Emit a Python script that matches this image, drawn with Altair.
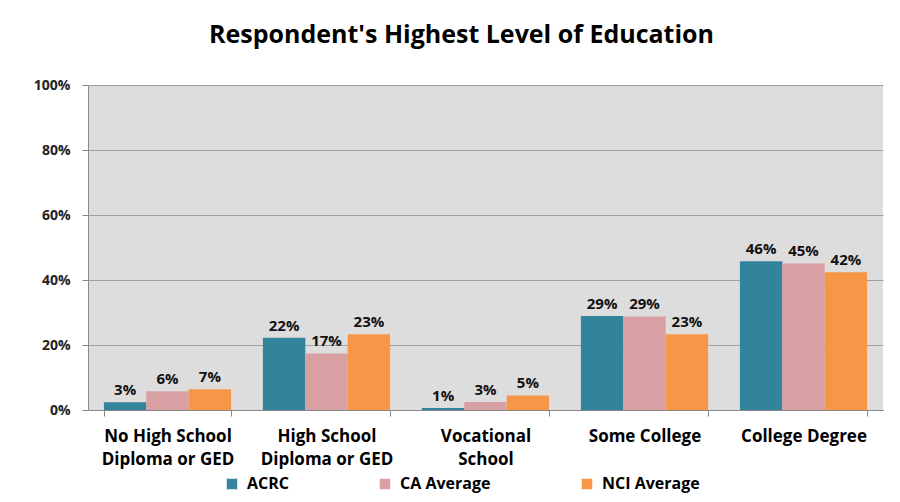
import altair as alt
import pandas as pd

categories = ["No High School|Diploma or GED", "High School|Diploma or GED",
              "Vocational|School", "Some College", "College Degree"]
series = ["ACRC", "CA Average", "NCI Average"]
acrc = [2.4, 22.2, 0.6, 28.9, 45.8]
ca_avg = [5.8, 17.4, 2.5, 28.8, 45.1]
nci_avg = [6.4, 23.3, 4.5, 23.3, 42.4]
acrc_lbl = ["3%", "22%", "1%", "29%", "46%"]
ca_lbl = ["6%", "17%", "3%", "29%", "45%"]
nci_lbl = ["7%", "23%", "5%", "23%", "42%"]
colors = ["#31849B", "#D9A0A3", "#F79646"]

rows = []
for s, vals, lbls in zip(series, [acrc, ca_avg, nci_avg], [acrc_lbl, ca_lbl, nci_lbl]):
    for c, v, l in zip(categories, vals, lbls):
        rows.append({"cat": c, "series": s, "value": v / 100.0, "label": l})
df = pd.DataFrame(rows)

FONT = "Open Sans"

x_enc = alt.X("cat:N", sort=categories, title=None,
              scale=alt.Scale(paddingInner=0.2, paddingOuter=0.1),
              axis=alt.Axis(labelExpr="split(datum.label, '|')", labelAngle=0,
                            labelFont=FONT, labelFontSize=17, labelFontWeight="bold",
                            labelColor="#000000", labelPadding=12, labelLineHeight=23,
                            tickBand="extent", tickSize=6, tickColor="#888888",
                            domainColor="#888888", grid=False))
xo = alt.XOffset("series:N", sort=series, scale=alt.Scale(paddingInner=0, paddingOuter=0))

bars = alt.Chart(df).mark_bar().encode(
    x=x_enc,
    xOffset=xo,
    y=alt.Y("value:Q", title=None,
            scale=alt.Scale(domain=[0, 1]),
            axis=alt.Axis(format=".0%", values=[0, 0.2, 0.4, 0.6, 0.8, 1.0],
                          labelFont=FONT, labelFontSize=14, labelFontWeight="bold",
                          labelColor="#222222", labelPadding=12, tickSize=6,
                          tickColor="#888888", domainColor="#888888",
                          gridColor="#A0A0A0", gridWidth=1)),
    color=alt.Color("series:N", sort=series, title=None,
                    scale=alt.Scale(domain=series, range=colors),
                    legend=alt.Legend(orient="none", direction="horizontal",
                                      legendX=136, legendY=391,
                                      symbolType="square", symbolSize=110,
                                      symbolStrokeWidth=0,
                                      labelFont=FONT, labelFontSize=16,
                                      labelFontWeight="bold", labelColor="#000000",
                                      columnPadding=88, labelOffset=7)),
)

text = alt.Chart(df).mark_text(dy=-12, font=FONT, fontSize=15, fontWeight="bold",
                               color="#111111").encode(
    x=alt.X("cat:N", sort=categories),
    xOffset=xo,
    y="value:Q",
    text="label:N",
)

chart = alt.layer(bars, text).properties(
    width=795, height=325,
    autosize=alt.AutoSizeParams(type="none"),
    padding={"left": 80, "top": 77, "right": 9, "bottom": 84},
    background="#FFFFFF",
    title=alt.TitleParams("Respondent's Highest Level of Education", font=FONT,
                          fontSize=25, fontWeight="bold", color="#000000",
                          offset=30, dx=-24, anchor="middle"),
).configure_view(fill="#DDDDDD", stroke=None)

chart.save("out.html", embed_options={"renderer": "svg", "actions": False})
